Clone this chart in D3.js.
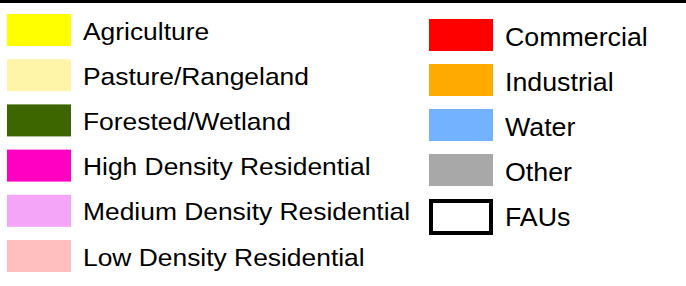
<!DOCTYPE html>
<html>
<head>
<meta charset="utf-8">
<script src="https://cdn.jsdelivr.net/npm/d3@7"></script>
<style>
	body { margin: 0; background: #fff; }
	svg { display: block; }
</style>
</head>
<body>
<svg width="686" height="286"></svg>
<script>
// legend entries, two columns
var leftLabels = ["Agriculture", "Pasture/Rangeland", "Forested/Wetland", "High Density Residential", "Medium Density Residential", "Low Density Residential"];
var leftColors = ["#ffff00", "#fff5a8", "#3e6600", "#ff00c3", "#f5a5f8", "#ffbfbf"];
var rightLabels = ["Commercial", "Industrial", "Water", "Other", "FAUs"];
var rightColors = ["#ff0000", "#ffaa00", "#73b2ff", "#a8a8a8", "none"];

var svg = d3.select("svg"),
    width = +svg.attr("width");

svg.append("rect")
	.attr("x", 0)
	.attr("y", 0)
	.attr("width", width)
	.attr("height", 3)
	.attr("fill", "#000");

function column(labels, colors, opts) {
	var y = d3.scalePoint()
		.domain(labels)
		.range(opts.range);

	var items = svg.append("g")
		.selectAll("g")
		.data(labels)
		.enter().append("g")
		  .attr("transform", function(d) { return "translate(0," + y(d) + ")"; });

	items.append("rect")
		.attr("x", function(d, i) { return colors[i] == "none" ? opts.x + 2 : opts.x; })
		.attr("y", function(d, i) { return colors[i] == "none" ? 2 : 0; })
		.attr("width", function(d, i) { return colors[i] == "none" ? 60 : 64; })
		.attr("height", function(d, i) { return colors[i] == "none" ? 32 : 32; })
		.attr("fill", function(d, i) { return colors[i] == "none" ? "#fff" : colors[i]; })
		.attr("stroke", function(d, i) { return colors[i] == "none" ? "#000" : null; })
		.attr("stroke-width", 4);

	items.append("text")
		.attr("transform", "translate(" + opts.textX + "," + opts.baseline + ") scale(" + opts.stretch + ",1)")
		.attr("font-family", "Liberation Sans, Arial, sans-serif")
		.attr("font-size", opts.fontSize)
		.attr("fill", "#000")
		.text(function(d) { return d; });
}

column(leftLabels, leftColors, {range: [14, 240], x: 7, textX: 83, baseline: 25.5, fontSize: 24, stretch: 1.1});
column(rightLabels, rightColors, {range: [19, 199], x: 429, textX: 505, baseline: 26.5, fontSize: 26, stretch: 1.03});
</script>
</body>
</html>
